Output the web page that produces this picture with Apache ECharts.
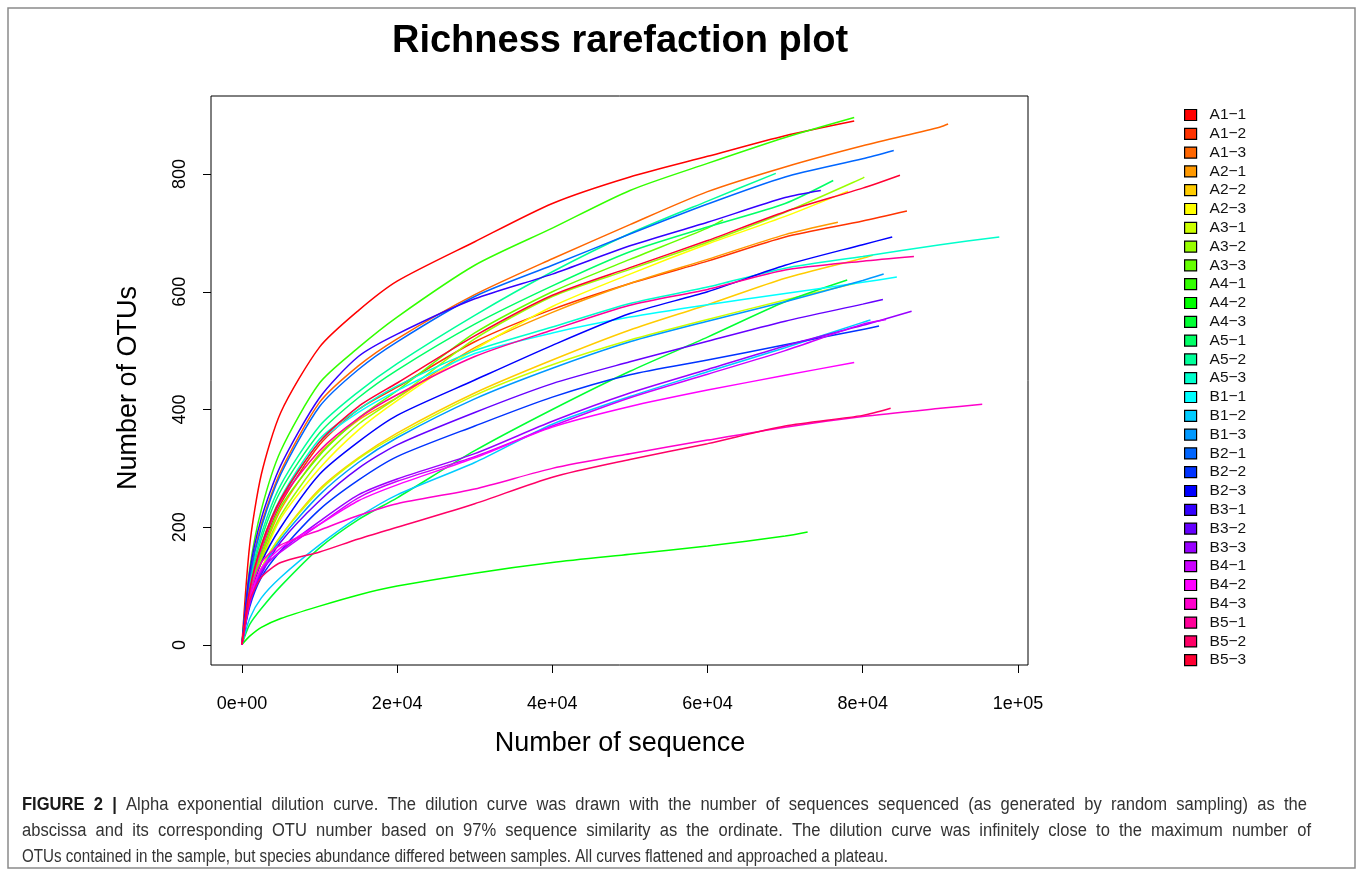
<!DOCTYPE html>
<html>
<head>
<meta charset="utf-8">
<script src="https://cdn.jsdelivr.net/npm/echarts@6/dist/echarts.min.js"></script>
<style>
html,body{margin:0;padding:0;background:#fff;}
#chart{width:1360px;height:874px;}
</style>
</head>
<body>
<div id="chart"></div>
<script>
// ---- data ----
const sampleX = [0,1000,2500,5000,10000,15000,20000,30000,40000,50000,60000,70000,80000,90000];

const seriesNames = ['A1\u22121','A1\u22122','A1\u22123','A2\u22121','A2\u22122','A2\u22123','A3\u22121','A3\u22122','A3\u22123',
  'A4\u22121','A4\u22122','A4\u22123','A5\u22121','A5\u22122','A5\u22123','B1\u22121','B1\u22122','B1\u22123',
  'B2\u22121','B2\u22122','B2\u22123','B3\u22121','B3\u22122','B3\u22123','B4\u22121','B4\u22122','B4\u22123',
  'B5\u22121','B5\u22122','B5\u22123'];

// OTU values at sampleX (until the sample's own depth)
const yA1_1 = [1,170,290,395,506,568,618,685,750,795,830,865];
const yA1_2 = [1,90,160,240,340,400,438,515,570,614,652,693,720];
const yA1_3 = [1,115,205,295,412,474,520,595,656,714,770,812,848,880];
const yA2_1 = [1,85,150,230,325,382,420,505,565,614,655,697];
const yA2_2 = [1,75,130,185,265,318,360,428,484,535,578,623,657];
const yA2_3 = [1,80,140,215,300,365,415,502,575,630,681,728];
const yA3_1 = [1,75,130,185,262,316,356,424,476,518,553,586];
const yA3_2 = [1,82,145,220,312,375,420,520,592,638,684,735,793];
const yA3_3 = [1,88,155,235,322,385,432,530,600,655,708];
const yA4_1 = [1,130,230,330,445,505,557,645,708,772,818,862];
const yA4_2 = [1,15,30,45,66,85,100,122,140,154,168,185];
const yA4_3 = [1,35,62,100,165,213,250,330,400,465,523,583];
const yA5_1 = [1,100,180,262,360,420,467,545,610,668,710,750];
const yA5_2 = [1,105,188,272,372,430,478,560,634,699,754];
const yA5_3 = [1,95,170,250,350,400,440,500,540,580,608,640,660,680];
const yB1_1 = [1,92,165,245,345,395,432,495,530,557,578,597,616];
const yB1_2 = [1,45,80,115,170,217,255,310,375,422,464,505,548];
const yB1_3 = [1,70,125,180,255,310,352,418,470,515,550,583,619];
const yB2_1 = [1,115,200,290,405,468,515,592,645,698,749,795,826];
const yB2_2 = [1,65,115,160,230,280,320,372,421,459,484,510,536];
const yB2_3 = [1,80,140,200,290,345,390,450,509,563,600,645,680];
const yB3_1 = [1,125,215,305,420,490,528,588,630,678,718,760];
const yB3_2 = [1,70,120,175,245,300,340,395,444,481,516,550,579];
const yB3_3 = [1,70,125,160,210,255,282,325,380,428,468,508,543];
const yB4_1 = [1,72,128,158,205,250,278,320,372,420,460,500,545];
const yB4_2 = [1,78,130,165,205,245,272,318,370,405,433,458];
const yB4_3 = [1,82,140,170,195,220,240,265,300,325,348,370,388,402];
const yB5_1 = [1,90,165,245,330,385,425,490,535,577,604,637,652];
const yB5_2 = [1,75,115,140,158,180,200,240,285,315,342,372,390];
const yB5_3 = [1,95,170,248,345,405,445,525,594,641,687,736,776];

// final (sequencing depth, OTUs) of each sample, same order as seriesNames
const endX = [78900,85700,91000,76800,81300,78100,79200,80200,62000,78900,72900,78000,76200,68800,97600,
  84400,81000,82700,84000,82100,83800,74600,82600,86300,83000,78900,95400,86600,83600,84800];
const endY = [890,737,885,718,662,771,615,795,722,896,192,620,789,801,693,
  625,552,630,840,542,693,772,587,567,553,480,409,660,402,798];

const seriesValues = [yA1_1,yA1_2,yA1_3,yA2_1,yA2_2,yA2_3,yA3_1,yA3_2,yA3_3,yA4_1,yA4_2,yA4_3,yA5_1,yA5_2,yA5_3,
  yB1_1,yB1_2,yB1_3,yB2_1,yB2_2,yB2_3,yB3_1,yB3_2,yB3_3,yB4_1,yB4_2,yB4_3,yB5_1,yB5_2,yB5_3];

const xTicks = [0,20000,40000,60000,80000,100000];
const xTickLabels = ['0e+00','2e+04','4e+04','6e+04','8e+04','1e+05'];
const yTicks = [0,200,400,600,800];
const yTickLabels = ['0','200','400','600','800'];

const captionBold = 'FIGURE 2 |';
const captionLines = [
  'Alpha exponential dilution curve. The dilution curve was drawn with the number of sequences sequenced (as generated by random sampling) as the',
  'abscissa and its corresponding OTU number based on 97% sequence similarity as the ordinate. The dilution curve was infinitely close to the maximum number of',
  'OTUs contained in the sample, but species abundance differed between samples. All curves flattened and approached a plateau.'
];

// ---- styles ----
const colors = ['#FF0000','#FF3300','#FF6600','#FF9900','#FFCC00','#FFFF00','#CCFF00','#99FF00','#66FF00',
  '#33FF00','#00FF00','#00FF33','#00FF66','#00FF99','#00FFCC','#00FFFF','#00CCFF','#0099FF',
  '#0066FF','#0033FF','#0000FF','#3300FF','#6600FF','#9900FF','#CC00FF','#FF00FF','#FF00CC',
  '#FF0099','#FF0066','#FF0033'];
const FONT = '"Liberation Sans", Arial, Helvetica, sans-serif';

const series = seriesNames.map((name, k) => {
  const ys = seriesValues[k];
  const data = ys.map((v, i) => [sampleX[i], v]);
  data.push([endX[k], endY[k]]);
  return {
    name: name,
    type: 'line',
    data: data,
    showSymbol: false,
    symbol: 'none',
    smooth: 0.25,
    color: colors[k],
    lineStyle: { width: 1.5, color: colors[k] },
    itemStyle: { color: colors[k], borderColor: '#000', borderWidth: 1 },
    emphasis: { disabled: true },
    silent: true
  };
});

// ---- caption layout (justified lines, condensed type) ----
const capSize = 18, capLeft = 22;
const capScales = [0.92, 0.92, 0.842];
const capTargets = [1285, 1289, null];   // widths of justified lines
const capY = [805, 831, 857];
const mctx = document.createElement('canvas').getContext('2d');
function tw(str, bold) { mctx.font = (bold ? 'bold ' : '') + capSize + 'px ' + FONT; return mctx.measureText(str).width; }
const captionGraphics = captionLines.map((line, li) => {
  const words = line.split(' ');
  const tokens = [];
  if (li === 0) captionBold.split(' ').forEach(w => tokens.push({ t: w, b: true }));
  words.forEach(w => tokens.push({ t: w, b: false }));
  const sc = capScales[li];
  let spaceW = tw(' ', false);
  if (capTargets[li]) {
    const sumW = tokens.reduce((s, tk) => s + tw(tk.t, tk.b), 0);
    spaceW = (capTargets[li] / sc - sumW) / (tokens.length - 1);
  }
  const text = tokens.map(tk => (tk.b ? '{b|' + tk.t + '}' : '{n|' + tk.t + '}')).join('{s| }');
  return {
    type: 'text', x: capLeft, y: capY[li], scaleX: sc, scaleY: 1,
    style: {
      text: text, font: capSize + 'px ' + FONT, fill: '#333', textVerticalAlign: 'middle',
      rich: {
        b: { fontWeight: 'bold', fontSize: capSize, fontFamily: FONT, fill: '#1a1a1a' },
        n: { fontSize: capSize, fontFamily: FONT, fill: '#333' },
        s: { width: spaceW, fontSize: capSize, fontFamily: FONT }
      }
    }
  };
});

const chart = echarts.init(document.getElementById('chart'), null, { renderer: 'canvas' });
chart.setOption({
  animation: false,
  backgroundColor: '#fff',
  grid: { left: 211, top: 96, width: 817, height: 569, show: true, borderColor: '#000', borderWidth: 1, backgroundColor: 'transparent' },
  xAxis: {
    type: 'value', min: -3990, max: 101300,
    axisLine: { show: false, onZero: false },
    splitLine: { show: false },
    axisTick: { show: true, length: 8, lineStyle: { color: '#000', width: 1 }, customValues: xTicks },
    axisLabel: {
      customValues: xTicks, margin: 30, fontSize: 18, fontFamily: FONT, color: '#000',
      formatter: v => { const i = xTicks.indexOf(v); return i >= 0 ? xTickLabels[i] : ''; }
    }
  },
  yAxis: {
    type: 'value', min: -34, max: 932.5,
    axisLine: { show: false, onZero: false },
    splitLine: { show: false },
    axisTick: { show: true, length: 8, lineStyle: { color: '#000', width: 1 }, customValues: yTicks },
    axisLabel: {
      customValues: yTicks, rotate: 90, margin: 22, fontSize: 18, fontFamily: FONT, color: '#000',
      formatter: v => { const i = yTicks.indexOf(v); return i >= 0 ? yTickLabels[i] : ''; }
    }
  },
  legend: {
    orient: 'vertical', left: 1184, top: 107, padding: 0,
    itemWidth: 12, itemHeight: 11, itemGap: 2.8,
    icon: 'rect',
    itemStyle: { borderColor: '#000', borderWidth: 1.2 },
    textStyle: { fontSize: 15.5, fontFamily: FONT, color: '#111', lineHeight: 16, padding: [0, 0, 0, 8] },
    selectedMode: false,
    data: seriesNames
  },
  graphic: [
    { type: 'rect', shape: { x: 8, y: 8, width: 1347, height: 860 }, style: { fill: 'none', stroke: '#8a8a8a', lineWidth: 1.5 }, silent: true },
    { type: 'text', x: 620, y: 42, style: { text: 'Richness rarefaction plot', font: 'bold 38px ' + FONT, fill: '#000', textAlign: 'center', textVerticalAlign: 'middle' } },
    { type: 'text', x: 620, y: 744, style: { text: 'Number of sequence', font: '27px ' + FONT, fill: '#000', textAlign: 'center', textVerticalAlign: 'middle' } },
    { type: 'text', x: 129, y: 388, rotation: Math.PI / 2, style: { text: 'Number of OTUs', font: '27px ' + FONT, fill: '#000', textAlign: 'center', textVerticalAlign: 'middle' } }
  ].concat(captionGraphics),
  series: series
});
</script>
</body>
</html>
